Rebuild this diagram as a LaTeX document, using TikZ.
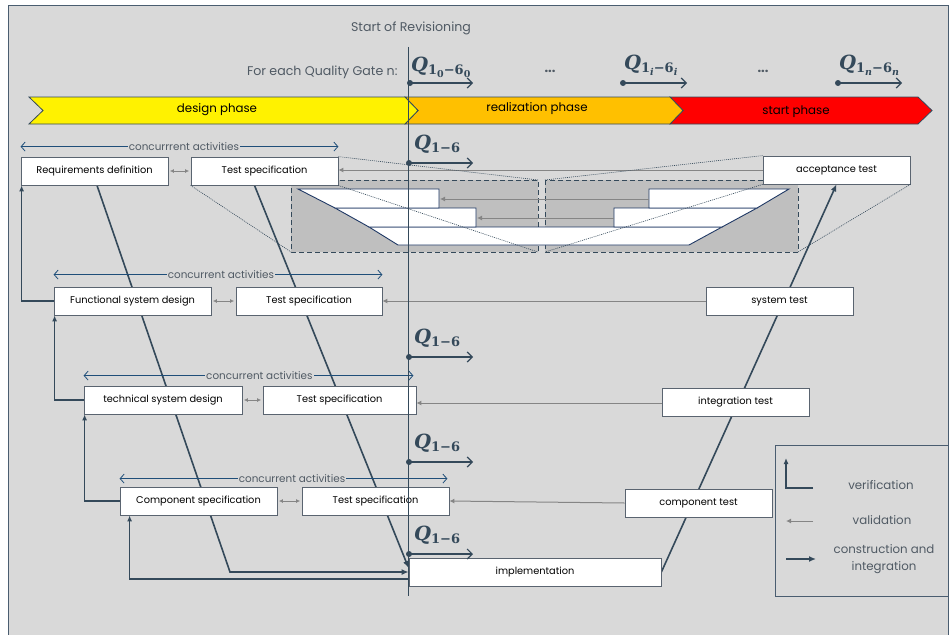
\documentclass[tikz,border=0pt]{standalone}
\usepackage{fontspec}
\setmainfont{Poppins}
\newfontfamily\qfont{DejaVu Serif}
\usetikzlibrary{arrows.meta,calc}
\definecolor{bgc}{HTML}{D9D9D9}
\definecolor{frm}{HTML}{4A5D70}
\definecolor{dk}{HTML}{34495A}
\definecolor{gy}{HTML}{858585}
\definecolor{bl}{HTML}{1F4E79}
\definecolor{insetc}{HTML}{BFBFBF}
\definecolor{navy}{HTML}{1F3864}
\definecolor{orng}{HTML}{FFC000}
\definecolor{boxb}{HTML}{5A6470}
\definecolor{txg}{HTML}{505A64}
\newcommand{\Qsym}{{\qfont\bfseries\itshape Q}}
\newcommand{\Qsub}[1]{\raisebox{-3.8pt}{\fontsize{13}{13}\qfont\bfseries #1}}
\newcommand{\Qss}[1]{\raisebox{-2.7pt}{\fontsize{9.5}{9.5}\selectfont #1}}
\pgfdeclarelayer{l0}
\pgfdeclarelayer{l1}
\pgfdeclarelayer{l2}
\pgfdeclarelayer{l4}
\pgfsetlayers{l0,l1,l2,main,l4}
\tikzset{
  vbox/.style={draw=boxb, fill=white, line width=0.8pt, minimum width=#1, minimum height=28pt, inner sep=0pt, font=\fontsize{9.8}{11}\selectfont},
  constr/.style={dk, line width=1.6pt, -{Latex[length=7pt,width=6pt]}},
  verif/.style={dk, line width=1.2pt, -{Latex[length=6pt,width=5pt]}},
  valid/.style={gy, line width=1pt, -{Latex[length=5pt,width=5pt]}},
  dbl/.style={gy, line width=1pt, {Latex[length=4pt,width=4pt]}-{Latex[length=4pt,width=4pt]}, shorten <=1.5pt, shorten >=1.5pt},
  conc/.style={bl, line width=0.8pt, {Straight Barb[length=4pt,width=9pt]}-{Straight Barb[length=4pt,width=9pt]}},
  conctxt/.style={fill=bgc, inner sep=1pt, text=txg, font=\fontsize{10.4}{11}\selectfont},
  gate/.style={dk, line width=1.2pt, -{Straight Barb[length=5pt,width=10pt]}},
  qlab/.style={anchor=base west, text=dk, inner sep=0pt, font=\fontsize{19.5}{19.5}\selectfont},
  dotl/.style={dk, line width=0.6pt, dash pattern=on 1pt off 1pt},
  strip/.style={fill=white, draw=navy, line width=0.9pt},
  insetbox/.style={fill=insetc, draw=dk, line width=0.8pt, dash pattern=on 5pt off 3pt},
  phase/.style={draw=dk, line width=0.8pt},
  phtxt/.style={font=\fontsize{11.8}{13}\selectfont},
  hdr/.style={text=txg, font=\fontsize{12.6}{14}\selectfont},
  leg/.style={text=txg, font=\fontsize{11.8}{14}\selectfont, align=center}
}
\begin{document}
\begin{tikzpicture}[x=1pt,y=-1pt]
\useasboundingbox (0,0) rectangle (949,634);
\begin{pgfonlayer}{l0}
\fill[white] (0,0) rectangle (949,634);
\draw[frm, fill=bgc, line width=1pt] (8,6) rectangle (948,660);
% phase band
\draw[phase, fill=red] (670,97) -- (918,97) -- (932,110.5) -- (918,124) -- (670,124) -- (683,110.5) -- cycle;
\draw[phase, fill=orng] (405,97) -- (670,97) -- (683,110.5) -- (670,124) -- (405,124) -- (418,110.5) -- cycle;
\draw[phase, fill=yellow] (29,97) -- (405,97) -- (418,110.5) -- (405,124) -- (29,124) -- (43,110.5) -- cycle;
\end{pgfonlayer}
\node[phtxt] (dp) at (217,110) {design phase};
\node[phtxt] (rp) at (537,109) {realization phase};
\node[phtxt] (sp) at (796,112) {start phase};
\node[hdr] (sor) at (411,28) {Start of Revisioning};
\node[hdr, anchor=east] (feq) at (401,72) {For each Quality Gate n:};
\node[hdr, font=\bfseries\fontsize{13}{14}\selectfont] (dots1) at (550,71) {...};
\node[hdr, font=\bfseries\fontsize{13}{14}\selectfont] (dots2) at (763,71) {...};
% boxes
\node[vbox=147pt] (req) at (94.5,171) {Requirements definition};
\node[vbox=147pt] (ts1) at (264.5,171) {Test specification};
\node[vbox=147pt] (acc) at (836.5,170) {acceptance test};
\node[vbox=157pt] (fsd) at (132.5,301) {Functional system design};
\node[vbox=146pt] (ts2) at (309,301) {Test specification};
\node[vbox=147pt] (sys) at (779.5,301) {system test};
\node[vbox=158pt] (tsd) at (163,400) {technical system design};
\node[vbox=153pt] (ts3) at (339.5,400) {Test specification};
\node[vbox=147pt] (integ) at (735.5,402) {integration test};
\node[vbox=157pt] (comp) at (198.5,501) {Component specification};
\node[vbox=147pt] (ts4) at (375.5,501) {Test specification};
\node[vbox=147pt] (ctest) at (698.5,503) {component test};
\node[vbox=252pt] (impl) at (535,572) {implementation};
% connectors behind boxes
\begin{pgfonlayer}{l1}
\coordinate (d1) at (230,572);
\draw[constr] ([xshift=2.5pt]req.south) -- (d1) -- (impl.west);
\draw[constr] ([xshift=-10pt]ts1.south) -- ([yshift=4pt]impl.west);
\draw[constr] (impl.east) -- (acc.south);
\draw[verif] (fsd.west) -| ([xshift=1pt]req.south west);
\draw[verif] (tsd.west) -| ([xshift=1pt]fsd.south west);
\draw[verif] (comp.west) -| ([xshift=1pt]tsd.south west);
\draw[verif] ([yshift=-7pt]impl.west) -| ([xshift=10pt]comp.south west);
\draw[valid] (acc.west) -- (acc.west -| ts1.east);
\draw[valid] (sys.west) -- (ts2.east);
\draw[valid] ([yshift=-1pt]integ.west) -- ([yshift=-1pt]integ.west -| ts3.east);
\draw[valid] (ctest.west) -- (ts4.east);
\draw[dbl] (req.east) -- (ts1.west);
\draw[dbl] (fsd.east) -- (ts2.west);
\draw[dbl] (tsd.east) -- (ts3.west);
\draw[dbl] (comp.east) -- (ts4.west);
\draw[conc] ([yshift=10pt]req.north west) -- ([yshift=10pt]ts1.north east) node[conctxt, pos=0.514] (c1) {concurrrent activities};
\draw[conc] ([yshift=12pt]fsd.north west) -- ([yshift=12pt]ts2.north east) node[conctxt, pos=0.509] (c2) {concurrent activities};
\draw[conc] ([yshift=10pt]tsd.north west) -- ([yshift=10pt,xshift=-3pt]ts3.north east) node[conctxt, pos=0.533] (c3) {concurrent activities};
\draw[conc] ([yshift=8pt]comp.north west) -- ([yshift=8pt,xshift=-2pt]ts4.north east) node[conctxt, pos=0.526] (c4) {concurrent activities};
\end{pgfonlayer}
% inset
\begin{pgfonlayer}{l2}
\coordinate (iatl) at (291,180);
\coordinate (iabr) at (538,252);
\coordinate (iatr) at (538,180);
\coordinate (iabl) at (291,252);
\coordinate (ibtl) at (545,180);
\coordinate (ibbl) at (545,252);
\coordinate (ibbr) at (798,252);
\draw[insetbox] (iatl) rectangle (iabr);
\draw[insetbox] (ibtl) rectangle (ibbr);
\draw[strip] (369,227) -- (722,227) -- (689,245) -- (398,245) -- cycle;
\draw[strip] (335,208) -- (476,208) -- (476,227) -- (369,227) -- cycle;
\draw[strip] (298,189) -- (439,189) -- (439,208) -- (335,208) -- cycle;
\draw[strip] (614,208) -- (757,208) -- (722,227) -- (614,227) -- cycle;
\draw[strip] (649,189) -- (789,189) -- (757,208) -- (649,208) -- cycle;
\draw[valid] (649,199) -- (440,199);
\draw[valid] (614,218) -- (477,218);
\end{pgfonlayer}
% front
\begin{pgfonlayer}{l4}
\draw[dotl] (ts1.north east) -- (iatr);
\draw[dotl] (ts1.south east) -- (iabr);
\draw[dotl] (ts1.south west) -- (iabl);
\draw[dotl] (acc.north west) -- (ibtl);
\draw[dotl] (acc.south west) -- (ibbl);
\draw[dotl] (acc.south east) -- (ibbr);
\coordinate (vtop) at (408.5,47);
\coordinate (vbot) at (408.5,596);
\draw[dk, line width=1pt] (vtop) -- (vbot);
% top gates
\coordinate (g0) at (410,83);
\coordinate (gi) at (623,83);
\coordinate (gn) at (838,83);
\fill[dk] (g0) circle (3);
\fill[dk] (gi) circle (3);
\fill[dk] (gn) circle (3);
\draw[gate] (g0) -- ++(63,0);
\draw[gate] (gi) -- ++(64,0);
\draw[gate] (gn) -- ++(64,0);
\node[qlab] (q0) at (411,71) {\Qsym\Qsub{1\Qss{0}−6\Qss{0}}};
\node[qlab] (qi) at (624,69) {\Qsym\Qsub{1\Qss{\itshape i}−6\Qss{\itshape i}}};
\node[qlab] (qn) at (839,69) {\Qsym\Qsub{1\Qss{\itshape n}−6\Qss{\itshape n}}};
% vertical gates
\foreach \gy/\nm in {163/a,357/b,462/c,554/d}{
  \coordinate (gate\nm) at (409,\gy);
  \fill[dk] (gate\nm) circle (3);
  \draw[gate] (gate\nm) -- ++(64,0);
  \node[qlab] (q\nm) at (414,\gy-14) {\Qsym\Qsub{1−6}};
}
\end{pgfonlayer}
% legend
\draw[frm, line width=1pt] (775,445) rectangle (948,596);
\coordinate (lv1) at (786,488);
\coordinate (lv2) at (813,488);
\draw[verif] (lv2) -- (lv1) -- ++(0,-30);
\node[leg] (tv) at (881,485) {verification};
\coordinate (la1) at (813,521);
\draw[valid] (la1) -- ++(-27,0);
\node[leg] (ta) at (882,520) {validation};
\coordinate (lc1) at (786,559);
\draw[constr] (lc1) -- ++(30,0);
\node[leg, font=\fontsize{11.8}{17}\selectfont] (tc) at (884,559.5) {construction and\\integration};
\end{tikzpicture}
\end{document}
